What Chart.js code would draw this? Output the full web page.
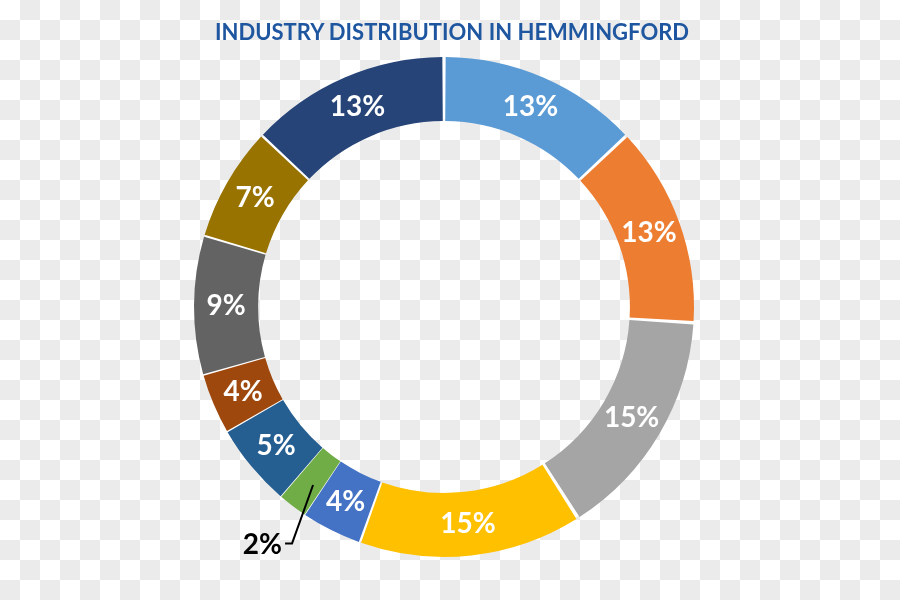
<!DOCTYPE html>
<html><head><meta charset="utf-8">
<script src="https://cdn.jsdelivr.net/npm/chart.js@4/dist/chart.umd.min.js"></script>
<style>
html,body{margin:0;padding:0;width:900px;height:600px;overflow:hidden;
background-color:#fff;background-image:conic-gradient(#ebebeb 25%,transparent 0 50%,#ebebeb 0 75%,transparent 0);background-size:40px 40px;}
#wrap{width:900px;height:600px;position:relative}
#title{position:absolute;left:0;top:19px;width:904px;text-align:center;line-height:26px;
font-family:Lato,"Open Sans",sans-serif;font-weight:bold;font-size:22px;color:#1F56A0;white-space:nowrap}
canvas{position:absolute;left:0;top:0}
</style></head><body><div id="wrap"><canvas id="c" width="900" height="600"></canvas><div id="title"></div></div>
<script>
const chartTitle = 'INDUSTRY DISTRIBUTION IN HEMMINGFORD';
const categories = ['Segment 1','Segment 2','Segment 3','Segment 4','Segment 5','Segment 6','Segment 7','Segment 8','Segment 9','Segment 10','Segment 11'];
const shares = [13.0, 13.0, 15.0, 14.5, 3.9, 1.9, 5.4, 3.9, 9.0, 7.4, 13.0];
const sliceColors = ['#5B9BD5','#ED7D31','#A5A5A5','#FFC000','#4472C4','#70AD47','#255E91','#9E480E','#636363','#997300','#264478'];

document.getElementById('title').textContent = chartTitle;

const SPACING = 7;
const LABEL_FONT = 'bold 28px Lato, "Open Sans", sans-serif';

const whiteRing = {
  id: 'whiteRing',
  beforeDatasetsDraw(chart) {
    const meta = chart.getDatasetMeta(0);
    const a = meta.data[0];
    if (!a) return;
    const p = a.getProps(['x','y','innerRadius','outerRadius'], true);
    const ctx = chart.ctx;
    const h = SPACING / 2;
    ctx.save();
    ctx.beginPath();
    ctx.arc(p.x, p.y, p.outerRadius + h - 1.5, 0, Math.PI * 2);
    ctx.arc(p.x, p.y, p.innerRadius + h + 1.5, 0, Math.PI * 2, true);
    ctx.fillStyle = '#ffffff';
    ctx.fill('evenodd');
    ctx.restore();
  }
};

const sliceLabels = {
  id: 'sliceLabels',
  afterDatasetsDraw(chart) {
    const ctx = chart.ctx;
    const meta = chart.getDatasetMeta(0);
    const h = SPACING / 2;
    ctx.save();
    ctx.font = LABEL_FONT;
    ctx.textBaseline = 'middle';
    meta.data.forEach((arc, i) => {
      const v = shares[i];
      const txt = Math.round(v) + '%';
      const p = arc.getProps(['x','y','startAngle','endAngle','innerRadius','outerRadius'], true);
      const mid = (p.startAngle + p.endAngle) / 2;
      const rIn = p.innerRadius + h, rOut = p.outerRadius + h;
      const rMid = (rIn + rOut) / 2;
      if (v < 3) {
        const sx = p.x + Math.cos(mid - 0.016) * (rMid + 3);
        const sy = p.y + Math.sin(mid - 0.016) * (rMid + 3);
        const ea = mid - 0.079;
        const er = rOut + 31;
        const ex = p.x + Math.cos(ea) * er;
        const ey = p.y + Math.sin(ea) * er;
        ctx.strokeStyle = '#000';
        ctx.lineWidth = 2;
        ctx.beginPath();
        ctx.moveTo(sx, sy);
        ctx.lineTo(ex, ey);
        ctx.lineTo(ex - 7, ey);
        ctx.stroke();
        ctx.fillStyle = '#000';
        ctx.textAlign = 'right';
        ctx.fillText(txt, ex - 10, ey + 2);
      } else {
        ctx.fillStyle = '#ffffff';
        ctx.textAlign = 'center';
        ctx.fillText(txt, p.x + Math.cos(mid) * rMid, p.y + Math.sin(mid) * rMid);
      }
    });
    ctx.restore();
  }
};

new Chart(document.getElementById('c'), {
  type: 'doughnut',
  data: {
    labels: categories,
    datasets: [{
      data: shares,
      backgroundColor: sliceColors,
      borderWidth: 0,
      spacing: SPACING
    }]
  },
  options: {
    responsive: false,
    animation: false,
    cutout: '74%',
    layout: { padding: { top: 57, bottom: 43, left: 0, right: 12 } },
    plugins: {
      legend: { display: false },
      tooltip: { enabled: false },
      title: { display: false }
    }
  },
  plugins: [whiteRing, sliceLabels]
});
</script>
</body></html>
